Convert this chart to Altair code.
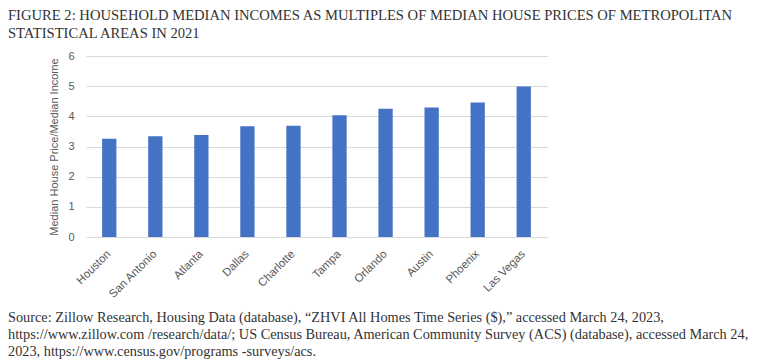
import altair as alt
import pandas as pd

cities = ["Houston", "San Antonio", "Atlanta", "Dallas", "Charlotte",
          "Tampa", "Orlando", "Austin", "Phoenix", "Las Vegas"]
ratios = [3.26, 3.34, 3.38, 3.67, 3.69, 4.04, 4.25, 4.29, 4.46, 4.99]
y_ticks = [0, 1, 2, 3, 4, 5, 6]

title_lines = ["FIGURE 2: HOUSEHOLD MEDIAN INCOMES AS MULTIPLES OF MEDIAN HOUSE PRICES OF METROPOLITAN",
               "STATISTICAL AREAS IN 2021"]
source_lines = ["Source: Zillow Research, Housing Data (database), \u201cZHVI All Homes Time Series ($),\u201d accessed March 24, 2023,",
                "https://www.zillow.com /research/data/; US Census Bureau, American Community Survey (ACS) (database), accessed March 24,",
                "2023, https://www.census.gov/programs -surveys/acs."]

df = pd.DataFrame({"city": cities, "ratio": ratios})

bars = alt.Chart(df).mark_bar(color="#4472C4").encode(
    x=alt.X("city:N", sort=None,
            scale=alt.Scale(paddingInner=0.69, paddingOuter=0.35),
            axis=alt.Axis(title=None, labelAngle=-45, labelAlign="right",
                          labelBaseline="middle", labelPadding=15, ticks=False,
                          domain=False, labelFont="Liberation Sans",
                          labelFontSize=11.5, labelColor="#595959")),
    y=alt.Y("ratio:Q", scale=alt.Scale(domain=[0, 6], nice=False),
            axis=alt.Axis(title="Median House Price/Median Income", values=y_ticks,
                          ticks=False, domain=False, grid=True, gridColor="#D9D9D9",
                          labelFont="Liberation Sans", labelFontSize=11,
                          labelColor="#595959", labelPadding=12,
                          titleFont="Liberation Sans", titleFontSize=11,
                          titleFontWeight="normal", titleColor="#595959",
                          titlePadding=8)),
)

title_df = pd.DataFrame({"t": ["\n".join(title_lines)]})
title = alt.Chart(title_df).mark_text(
    align="left", baseline="top", font="Liberation Serif", fontSize=14.6,
    color="#333333", lineBreak="\n", lineHeight=18
).encode(text="t:N", x=alt.value(-78), y=alt.value(-48))

source_df = pd.DataFrame({"t": ["\n".join(source_lines)]})
source = alt.Chart(source_df).mark_text(
    align="left", baseline="top", font="Liberation Serif", fontSize=14.3,
    color="#333333", lineBreak="\n", lineHeight=17
).encode(text="t:N", x=alt.value(-78), y=alt.value(74 + 181))

chart = alt.layer(bars, title, source).properties(
    width=461, height=181,
    autosize=alt.AutoSizeParams(type="none"),
    padding={"left": 78, "top": 48, "right": 212, "bottom": 122},
    background="white",
).configure_view(stroke=None)

chart.save("out.html", embed_options={"renderer": "svg", "actions": False})
